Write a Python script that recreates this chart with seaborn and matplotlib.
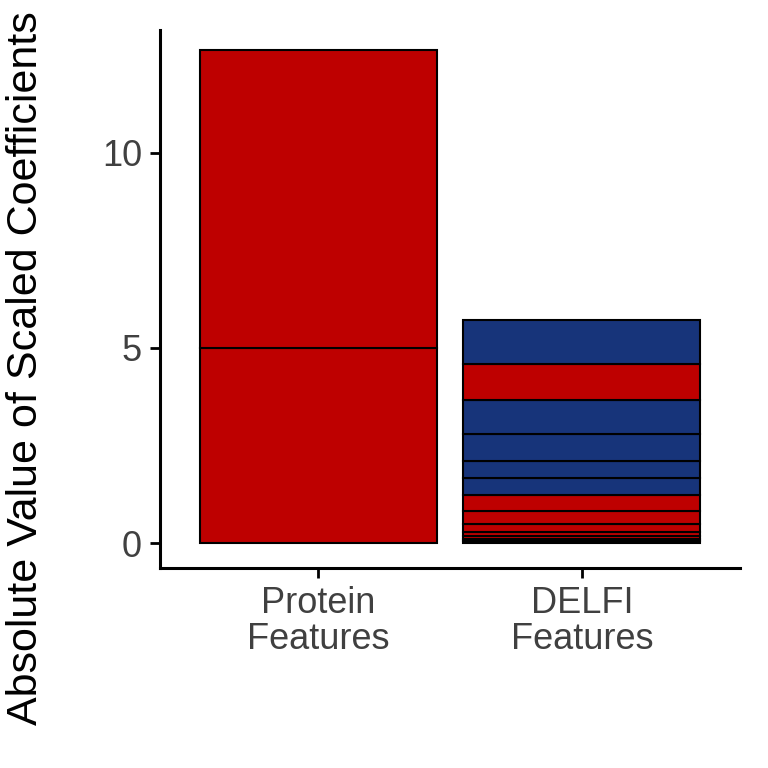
import matplotlib
matplotlib.use("Agg")
import matplotlib.pyplot as plt
import seaborn as sns

# stacked segments, bottom to top
groups = ["Protein\nFeatures", "DELFI\nFeatures"]
protein_vals = [5.0, 7.64]
protein_cols = ["red", "red"]
delfi_vals = [0.05, 0.05, 0.08, 0.10, 0.21, 0.33, 0.41, 0.44, 0.44, 0.69, 0.87, 0.92, 1.13]
delfi_cols = ["red", "red", "red", "red", "red", "red", "red",
              "blue", "blue", "blue", "blue", "red", "blue"]

palette = {"red": "#BE0000", "blue": "#17347A"}

sns.set_theme(style="ticks")
plt.rcParams["font.family"] = ["Liberation Sans", "DejaVu Sans"]

fig = plt.figure(figsize=(7.68, 7.68), dpi=100)
ax = fig.add_axes([160 / 768, 1 - 568 / 768, 580 / 768, 538 / 768])

for i, (vals, cols) in enumerate([(protein_vals, protein_cols), (delfi_vals, delfi_cols)]):
    bottom = 0
    for v, c in zip(vals, cols):
        ax.bar(i, v, bottom=bottom, width=0.9, color=palette[c],
               edgecolor="black", linewidth=1.5)
        bottom += v

ax.set_xlim(-0.6, 1.6)
ax.set_ylim(-0.64, 13.15)
ax.set_xticks([0, 1])
ax.set_xticklabels(groups, fontsize=26, color="#404040", linespacing=1.05)
ax.set_yticks([0, 5, 10])
ax.set_yticklabels(["0", "5", "10"], fontsize=26, color="#404040")
ax.set_ylabel("Absolute Value of Scaled Coefficients", fontsize=31, color="black")
ax.yaxis.set_label_coords(-0.197, 0.372)
ax.tick_params(width=2, length=7, color="black", pad=6)
for s in ["top", "right"]:
    ax.spines[s].set_visible(False)
for s in ["left", "bottom"]:
    ax.spines[s].set_linewidth(2.2)
    ax.spines[s].set_color("black")

fig.savefig("out.png", dpi=100)
